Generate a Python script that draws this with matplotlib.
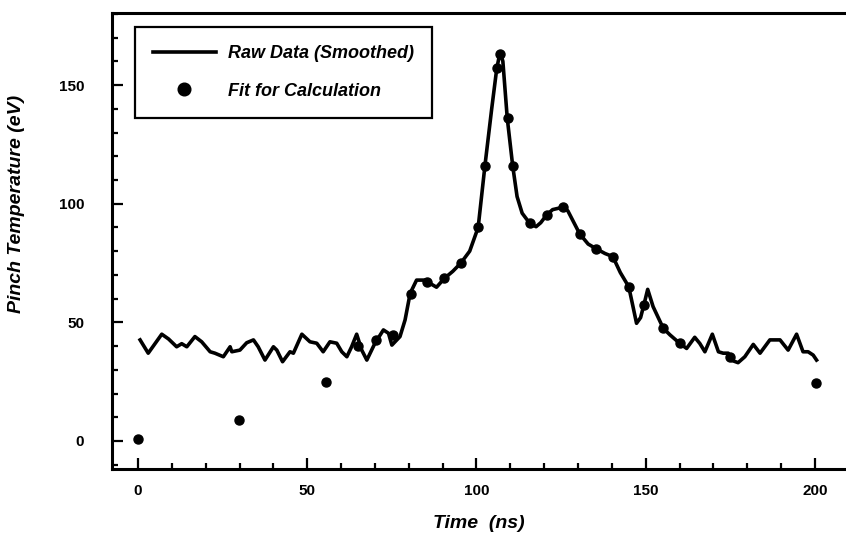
import matplotlib
matplotlib.use("Agg")
import matplotlib.pyplot as plt
from matplotlib.ticker import MultipleLocator

plt.rcParams.update({
    "font.family": ["Liberation Sans", "DejaVu Sans"],
    "font.weight": "bold",
    "xtick.direction": "in", "ytick.direction": "in",
})

# raw (smoothed) trace
raw_x = [0.6, 3, 7, 9, 11.4, 12.9, 14.4, 16.8, 18.8, 21.3, 22.7, 25.2, 27.2, 27.7,
         30.1, 32.1, 34.1, 35.5, 37.5, 40, 41, 42.7, 44.9, 45.9, 48.4, 50.8, 52.8,
         54.7, 56.7, 58.7, 60.2, 61.7, 63.1, 64.6, 66.1, 67.6, 70, 72.5, 74, 75,
         77.4, 78.9, 80.4, 82.3, 84.8, 86.3, 88.2, 90.5, 93, 95.4, 98, 100.5, 102.5,
         104.5, 106, 107, 107.8, 109.1, 110.7, 112, 113.5, 115.6, 117.6, 119, 120.7,
         122.5, 125.5, 127, 130.5, 133, 135.4, 138, 140.3, 142.5, 145, 146.2, 147.3,
         148.5, 149.5, 150.6, 152.2, 155.2, 157.2, 160.1, 162.1, 164.5, 166, 167.5,
         169.7, 171.5, 172.9, 174.4, 175.4, 177.3, 179.3, 181.8, 183.8, 186.7, 189.7,
         192.1, 194.6, 196.5, 198, 199.5, 200.5]
raw_y = [42.6, 37, 45, 43, 39.7, 41, 39.7, 44, 41.8, 37.6, 37, 35.5, 39.7, 37.6,
         38.3, 41.4, 42.6, 39.7, 34.1, 39.7, 38.3, 33.4, 37.6, 37, 45, 41.8, 41.2,
         37.6, 41.8, 41.2, 37.6, 35.5, 39.7, 45, 38.3, 34.1, 41.2, 46.8, 45.4, 40.4,
         44, 51, 62.2, 67.8, 67.8, 66.4, 64.8, 68.5, 71.5, 75, 80, 90, 116,
         140, 157, 164, 160, 136, 116, 103, 96, 92, 90.3, 92, 95.2,
         97.5, 98.5, 97, 87.3, 83, 81, 79, 77.7, 71, 65, 57, 49.6,
         52, 57.5, 63.9, 56.6, 47.5, 44.7, 41.1, 39, 43.7, 41.1, 37.6,
         45, 37.6, 37, 37, 34, 33, 35.5, 40.7, 37, 42.6, 42.6,
         38.3, 45, 37.6, 37.6, 36.2, 34.1]

# points used for the calculation
fit_x = [0, 29.9, 55.5, 65, 70.3, 75.4, 80.6, 85.5, 90.5, 95.4, 100.5, 102.6, 106,
         107.1, 109.2, 110.8, 115.7, 120.7, 125.5, 130.5, 135.4, 140.3, 145, 149.4,
         155.2, 160.1, 174.9, 200.2]
fit_y = [1, 9, 25, 40, 42.6, 44.5, 62, 67.1, 68.5, 75, 90, 116, 157,
         163, 136, 116, 92, 95.2, 98.6, 87.3, 81, 77.7, 65, 57.5,
         47.5, 41.3, 35.5, 24.5]

fig = plt.figure(figsize=(8.46, 5.44), dpi=100)
ax = fig.add_axes([0.1324, 0.1379, 0.8676, 0.8388])

ax.plot(raw_x, raw_y, color="black", lw=2.6, label="Raw Data (Smoothed)")
ax.plot(fit_x, fit_y, "o", color="black", ms=6.5, ls="none", label="Fit for Calculation")

ax.set_xlim(-7.7, 209.2)
ax.set_ylim(-11.8, 180.5)
ax.xaxis.set_major_locator(MultipleLocator(50))
ax.xaxis.set_minor_locator(MultipleLocator(10))
ax.yaxis.set_major_locator(MultipleLocator(50))
ax.yaxis.set_minor_locator(MultipleLocator(10))
ax.tick_params(which="major", length=8, width=1.6, labelsize=11)
ax.tick_params(axis="y", which="major", pad=20)
ax.tick_params(axis="x", which="major", pad=11)
ax.tick_params(which="minor", length=4.5, width=1.6)
for s in ["left", "bottom", "top"]:
    ax.spines[s].set_linewidth(2.2)
ax.spines["right"].set_visible(False)

ax.set_xlabel("Time  (ns)", fontsize=14, fontstyle="italic", fontweight="bold")
ax.set_ylabel("Pinch Temperature (eV)", fontsize=14, fontstyle="italic", fontweight="bold")
ax.xaxis.set_label_coords(0.5, -0.1)
ax.yaxis.set_label_coords(-0.118, 0.58)

leg = ax.legend(loc="upper left", bbox_to_anchor=(0.031, 0.969), borderaxespad=0,
                fancybox=False, edgecolor="black", framealpha=1, handlelength=3.5,
                handletextpad=0.67, labelspacing=1.15, borderpad=1.0, markerscale=1.4,
                prop={"size": 13, "style": "italic", "weight": "bold"})
leg.get_frame().set_linewidth(1.6)

fig.savefig("out.png", dpi=100)
